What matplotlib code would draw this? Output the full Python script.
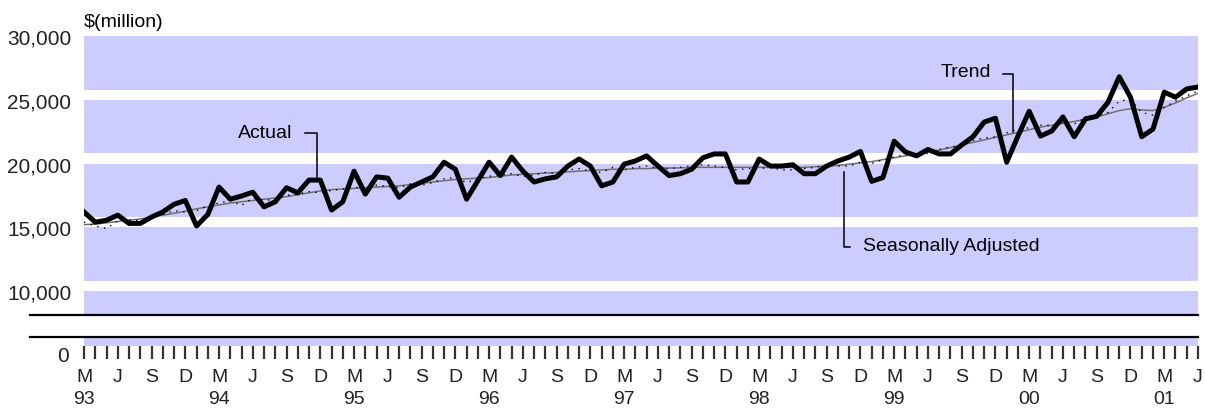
import matplotlib.pyplot as plt

plt.rcParams['font.family'] = ['Liberation Sans', 'DejaVu Sans']

# monthly data, Mar 1993 .. Jun 2001 ($ million)
actual = [16200, 15400, 15550, 15950, 15300, 15300, 15800, 16200, 16800, 17100,
          15100, 16000, 18150, 17200, 17450, 17750, 16600, 17000, 18100, 17700,
          18700, 18700, 16350, 17000, 19400, 17600, 18950, 18850, 17350, 18150,
          18550, 18950, 20100, 19550, 17200, 18650, 20100, 19050, 20500, 19400,
          18550, 18800, 18950, 19800, 20350, 19800, 18250, 18550, 19950, 20200,
          20600, 19800, 19050, 19200, 19550, 20450, 20750, 20750, 18550, 18550,
          20350, 19800, 19800, 19900, 19200, 19200, 19800, 20200, 20500, 20950,
          18600, 18900, 21750, 20900, 20600, 21100, 20750, 20750, 21450, 22100,
          23250, 23550, 20100, 22150, 24100, 22150, 22550, 23650, 22100, 23500,
          23700, 24800, 26800, 25200, 22100, 22700, 25600, 25200, 25850, 26000]

seas_adj = [15400, 15100, 14900, 15500, 15600, 15500, 15700, 16000, 16300, 16200,
            16300, 16700, 16900, 17100, 16700, 17300, 17100, 17200, 17500, 17600,
            17800, 17700, 17900, 18000, 18200, 17900, 18300, 18200, 18100, 18400,
            18300, 18500, 18800, 18900, 18500, 18800, 19000, 19100, 19200, 19000,
            19100, 19300, 19200, 19500, 19600, 19400, 19300, 19700, 19500, 19700,
            19800, 19600, 19600, 19700, 19800, 19900, 19800, 19700, 19500, 19600,
            19600, 19700, 19500, 19500, 19600, 19700, 19900, 19800, 19800, 20100,
            20000, 20300, 20500, 20700, 20600, 20800, 21100, 21300, 21400, 21800,
            22000, 22100, 22400, 22700, 22800, 23000, 23000, 23200, 23100, 23600,
            23700, 24000, 24900, 25000, 24000, 23800, 24400, 24900, 25300, 25700]

trend = [15200, 15250, 15350, 15450, 15550, 15650, 15800, 15950, 16100, 16250,
         16450, 16600, 16750, 16900, 17000, 17100, 17200, 17300, 17400, 17550,
         17700, 17850, 17950, 18000, 18050, 18100, 18150, 18200, 18250, 18350,
         18450, 18550, 18650, 18750, 18800, 18850, 18900, 19000, 19100, 19150,
         19200, 19250, 19300, 19350, 19400, 19450, 19500, 19550, 19550, 19600,
         19600, 19650, 19650, 19650, 19700, 19700, 19700, 19700, 19700, 19700,
         19700, 19700, 19700, 19700, 19700, 19750, 19800, 19850, 19950, 20050,
         20150, 20300, 20450, 20600, 20750, 20900, 21050, 21250, 21450, 21650,
         21850, 22050, 22250, 22450, 22650, 22850, 23000, 23150, 23300, 23450,
         23650, 23900, 24150, 24300, 24200, 24150, 24400, 24750, 25150, 25500]

months = ['M', 'J', 'S', 'D']
years = ['93', '94', '95', '96', '97', '98', '99', '00', '01']
yticks = [10000, 15000, 20000, 25000, 30000]

lavender = '#ccccff'
W, H = 1205, 414
x = list(range(len(actual)))

fig = plt.figure(figsize=(W / 100, H / 100), dpi=100)
ax = fig.add_axes([84 / W, 98 / H, 1114 / W, 279 / H])
ax2 = fig.add_axes([84 / W, 67 / H, 1114 / W, 9 / H])

# upper panel
ax.set_facecolor(lavender)
for v in yticks[:-1]:
    ax.axhspan(v, v + 800, color='white', lw=0)
ax.plot(x, trend, color='#707070', lw=1.1, zorder=3)
ax.plot(x, seas_adj, color='black', lw=1.0, ls=(0, (1, 4)), zorder=3)
ax.plot(x, actual, color='black', lw=3.6, solid_joinstyle='round', zorder=4)
ax.set_xlim(0, 99)
ax.set_ylim(8118, 30000)
ax.set_xticks([])
ax.set_yticks(yticks)
ax.set_yticklabels([f'{v:,}' for v in yticks], fontsize=15, color='#222222')
ax.tick_params(axis='y', length=0, pad=9)
for s in ax.spines.values():
    s.set_visible(False)
ax.axhline(8118, xmin=-0.0485, xmax=1, color='black', lw=1.6, clip_on=False)
ax.text(0, 1.022, '$(million)', transform=ax.transAxes, fontsize=14,
        ha='left', va='bottom')

# labels with leader lines
ax.text(18.5, 22470, 'Actual', fontsize=14, ha='right', va='center')
ax.plot([19.6, 20.7, 20.7], [22390, 22390, 18950], color='black', lw=1.1)
ax.text(76.1, 27180, 'Trend', fontsize=14, ha='left', va='center')
ax.plot([81.7, 82.6, 82.6], [27020, 27020, 22500], color='black', lw=1.1)
ax.text(69.2, 13530, 'Seasonally Adjusted', fontsize=14, ha='left', va='center')
ax.plot([67.5, 67.5, 68.1], [19330, 13450, 13450], color='black', lw=1.1)

# lower panel (zero line after the break)
ax2.set_facecolor(lavender)
ax2.set_xlim(0, 99)
ax2.set_ylim(0, 1)
for s in ax2.spines.values():
    s.set_visible(False)
ax2.axhline(1, xmin=-0.0485, xmax=1, color='black', lw=1.6, clip_on=False)
ax2.set_yticks([0])
ax2.set_yticklabels(['0'], fontsize=15, color='#222222')
for lbl in ax2.get_yticklabels():
    lbl.set_va('top')
ax2.tick_params(axis='y', length=0, pad=11)
ax2.set_xticks(x, minor=True)
ax2.set_xticks(x[::3])
qlabels = []
for k in range(len(x[::3])):
    lab = months[k % 4]
    if k % 4 == 0:
        lab += '\n' + years[k // 4]
    qlabels.append(lab)
ax2.set_xticklabels(qlabels, fontsize=14, linespacing=1.35, color='#222222')
ax2.tick_params(axis='x', which='both', direction='out', length=9, width=1.6,
                color='#333333', pad=7)

fig.savefig('out.png', dpi=100)
